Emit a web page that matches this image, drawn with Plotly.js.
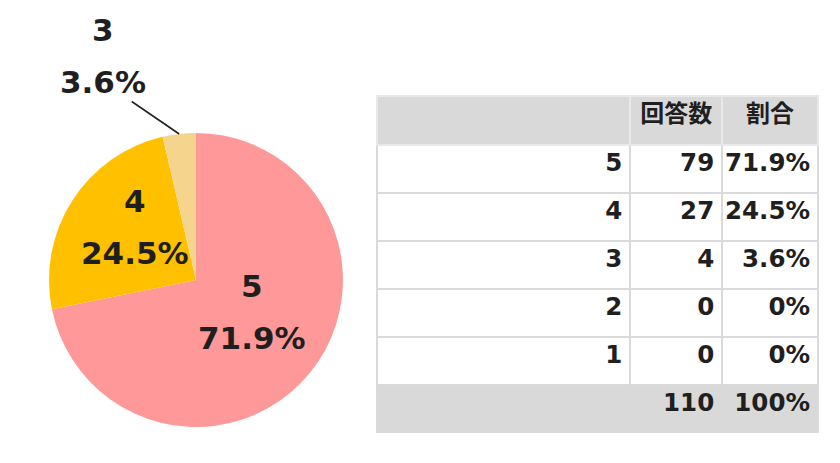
<!DOCTYPE html>
<html>
<head>
<meta charset="utf-8">
<script src="https://cdn.plot.ly/plotly-3.0.1.min.js"></script>
<style>
html,body{margin:0;padding:0;background:#ffffff;}
#chart{width:840px;height:463px;}
</style>
</head>
<body>
<div id="chart"></div>
<script>
// ---- data ----
var ratingLabels = ['5', '4', '3', '2', '1'];
var counts = [79, 27, 4, 0, 0];
var percentLabels = ['71.9%', '24.5%', '3.6%', '0%', '0%'];
var headerLabels = ['', '回答数', '割合'];
var totalLabel = '110';
var totalPercentLabel = '100%';
var sliceColors = ['#FF9999', '#FFC000', '#F5D48E', '#A5A5A5', '#5B9BD5'];

var W = 840, H = 463;
var FONT = 'DejaVu Sans, Noto Sans CJK JP, sans-serif';
var TXT = '#1f1f1f';

// pie slices only for non-zero answers
var pieLabels = [], pieValues = [], pieColors = [], piePct = [];
for (var i = 0; i < counts.length; i++) {
  if (counts[i] > 0) {
    pieLabels.push(ratingLabels[i]);
    pieValues.push(counts[i]);
    pieColors.push(sliceColors[i]);
    piePct.push(percentLabels[i]);
  }
}

var pieDomain = {x: [0.0583, 0.4083], y: [0.0778, 0.7127]};

var pie = {
  type: 'pie',
  labels: pieLabels,
  values: pieValues,
  marker: {colors: pieColors, line: {width: 0}},
  sort: false,
  direction: 'clockwise',
  rotation: 0,
  textinfo: 'none',
  hoverinfo: 'skip',
  showlegend: false,
  domain: pieDomain
};

// table columns
var col0 = ratingLabels.concat(['']);
var col1 = counts.map(String).concat([totalLabel]);
var col2 = percentLabels.concat([totalPercentLabel]);
var nRows = col0.length;
var fillCol = [];
for (var r = 0; r < nRows; r++) fillCol.push(r === nRows - 1 ? '#D9D9D9' : '#FFFFFF');

var table = {
  type: 'table',
  domain: {x: [377 / W, 819 / W], y: [(H - 433) / H, (H - 96) / H]},
  columnwidth: [254, 92, 96],
  header: {
    values: headerLabels,
    align: 'center',
    height: 49,
    fill: {color: '#D9D9D9'},
    line: {color: '#E9E9E9', width: 2},
    font: {family: FONT, size: 24, color: TXT, weight: 'bold'}
  },
  cells: {
    values: [col0, col1, col2],
    align: 'right',
    height: 48,
    fill: {color: [fillCol, fillCol, fillCol]},
    line: {color: '#DADADA', width: 2},
    font: {family: FONT, size: 24.5, color: TXT, weight: 'bold'}
  }
};

// label annotations from pie geometry
var cx = (pieDomain.x[0] + pieDomain.x[1]) / 2;
var cy = (pieDomain.y[0] + pieDomain.y[1]) / 2;
var Rpx = Math.min((pieDomain.x[1] - pieDomain.x[0]) * W, (pieDomain.y[1] - pieDomain.y[0]) * H) / 2;
var sumVals = pieValues.reduce(function (a, b) { return a + b; }, 0);
var annotations = [];
var cum = 0;
for (var j = 0; j < pieValues.length; j++) {
  var frac = pieValues[j] / sumVals;
  var mid = (cum + frac / 2) * 2 * Math.PI;
  cum += frac;
  var f = {family: FONT, size: 31, color: TXT, weight: 'bold'};
  if (frac > 0.1) {
    var k = 0.49;
    var px = cx + k * Rpx * Math.sin(mid) / W;
    var py = cy + k * Rpx * Math.cos(mid) / H;
    annotations.push({xref: 'paper', yref: 'paper', x: px, y: py, text: pieLabels[j],
      showarrow: false, font: f, yshift: 14 + 26, xanchor: 'center', yanchor: 'middle'});
    annotations.push({xref: 'paper', yref: 'paper', x: px, y: py, text: piePct[j],
      showarrow: false, font: f, yshift: 14 - 26, xanchor: 'center', yanchor: 'middle'});
  } else {
    var hx = cx + Rpx * Math.sin(mid) / W;
    var hy = cy + Rpx * Math.cos(mid) / H;
    annotations.push({xref: 'paper', yref: 'paper', x: hx, y: hy, text: piePct[j],
      showarrow: true, arrowhead: 0, arrowwidth: 1.6, arrowcolor: '#222222',
      ax: -76, ay: -52, font: f});
    annotations.push({xref: 'paper', yref: 'paper', x: hx, y: hy, text: pieLabels[j],
      showarrow: false, font: f, xshift: -76, yshift: 104, xanchor: 'center', yanchor: 'middle'});
  }
}

var layout = {
  width: W, height: H,
  margin: {l: 0, r: 0, t: 0, b: 0},
  paper_bgcolor: '#FFFFFF',
  showlegend: false,
  annotations: annotations
};

Plotly.newPlot('chart', [pie, table], layout, {displayModeBar: false, staticPlot: true});
</script>
</body>
</html>
